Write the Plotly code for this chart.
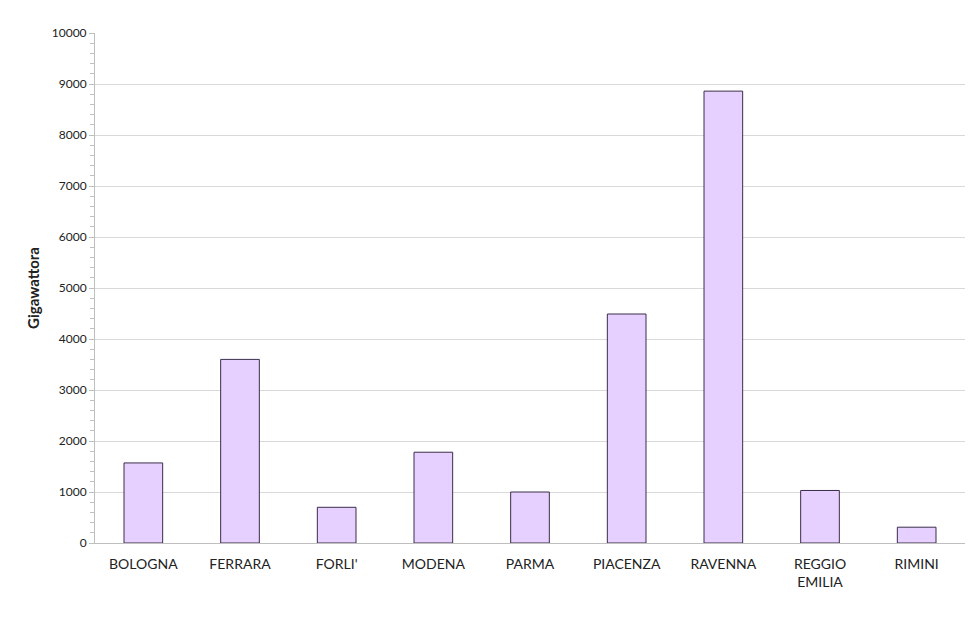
import plotly.graph_objects as go

province = ['BOLOGNA', 'FERRARA', "FORLI'", 'MODENA', 'PARMA',
            'PIACENZA', 'RAVENNA', 'REGGIO<br>EMILIA', 'RIMINI']
gigawattora = [1570, 3600, 700, 1780, 1000, 4490, 8860, 1030, 310]

fig = go.Figure(go.Bar(
    x=province,
    y=gigawattora,
    marker=dict(color='#E6D0FF', line=dict(color='#3B2D4A', width=1)),
    width=0.4,
))

# page has an 8px body margin, so margins are shifted by that
fig.update_layout(
    width=980, height=640,
    margin=dict(l=87, r=23, t=25, b=105),
    plot_bgcolor='white', paper_bgcolor='white',
    font=dict(family='Lato, Open Sans, sans-serif', color='#222222'),
    showlegend=False,
)
fig.update_yaxes(
    range=[0, 10000], dtick=1000, tickformat='d',
    showgrid=True, gridcolor='#D9D9D9', gridwidth=1,
    showline=True, linecolor='#BFBFBF', linewidth=1,
    ticks='outside', ticklen=5, tickcolor='#BFBFBF',
    minor=dict(dtick=200, ticks='outside', ticklen=4, tickcolor='#BFBFBF', showgrid=False),
    tickfont=dict(size=12),
    title=dict(text='<b>Gigawattora</b>', font=dict(size=15), standoff=8),
    zeroline=False,
)
fig.update_xaxes(
    showline=True, linecolor='#BFBFBF', linewidth=1,
    ticks='', tickfont=dict(size=14), ticklabelstandoff=8,
)

fig.write_html("out.html")
